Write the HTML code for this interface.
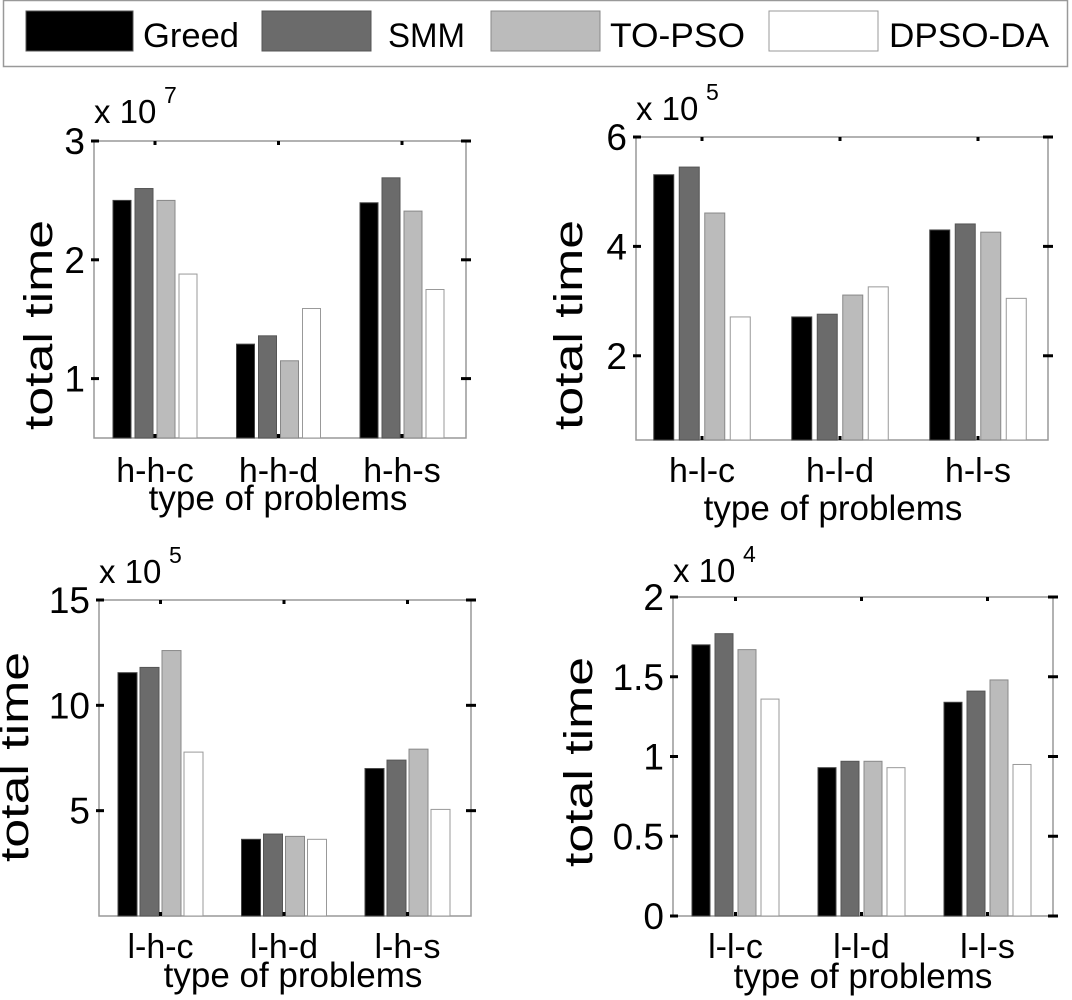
<!DOCTYPE html>
<html><head><meta charset="utf-8"><style>
html,body{margin:0;padding:0;background:#fff;}
svg{display:block;font-family:"Liberation Sans",Arial,sans-serif;}
</style></head><body>
<svg id="fig" width="1072" height="1000" viewBox="0 0 1072 1000">
<g>
<rect x="3.5" y="0.5" width="1064" height="66" fill="#fff" stroke="#999" stroke-width="1.5"/>
<g><rect x="26" y="11" width="107" height="40" fill="#000" stroke="#555"/><text x="143" y="47" font-size="34" textLength="96" lengthAdjust="spacingAndGlyphs">Greed</text></g>
<g><rect x="262" y="11" width="109" height="40" fill="#6b6b6b" stroke="#555"/><text x="388" y="47" font-size="34" textLength="77" lengthAdjust="spacingAndGlyphs">SMM</text></g>
<g><rect x="491" y="11" width="109" height="40" fill="#bbb" stroke="#888"/><text x="610" y="47" font-size="34" textLength="135" lengthAdjust="spacingAndGlyphs">TO-PSO</text></g>
<g><rect x="769" y="11" width="109" height="40" fill="#fff" stroke="#999"/><text x="889" y="47" font-size="34" textLength="160" lengthAdjust="spacingAndGlyphs">DPSO-DA</text></g>
</g>
</svg>
<script>
// ---- data ----
const seriesNames = ["Greed","SMM","TO-PSO","DPSO-DA"];
const catsTL = ["h-h-c","h-h-d","h-h-s"];
const greedTL = [2.50,1.29,2.48];
const smmTL = [2.60,1.36,2.69];
const topsoTL = [2.50,1.15,2.41];
const dpsoTL = [1.88,1.59,1.75];
const ticksTL = [1,2,3];
const tickLabelsTL = ["1","2","3"];

const catsTR = ["h-l-c","h-l-d","h-l-s"];
const greedTR = [5.31,2.71,4.30];
const smmTR = [5.45,2.76,4.41];
const topsoTR = [4.61,3.11,4.26];
const dpsoTR = [2.71,3.26,3.05];
const ticksTR = [2,4,6];
const tickLabelsTR = ["2","4","6"];

const catsBL = ["l-h-c","l-h-d","l-h-s"];
const greedBL = [11.55,3.64,7.0];
const smmBL = [11.8,3.89,7.4];
const topsoBL = [12.6,3.78,7.92];
const dpsoBL = [7.78,3.64,5.06];
const ticksBL = [5,10,15];
const tickLabelsBL = ["5","10","15"];

const catsBR = ["l-l-c","l-l-d","l-l-s"];
const greedBR = [1.70,0.93,1.34];
const smmBR = [1.77,0.97,1.41];
const topsoBR = [1.67,0.97,1.48];
const dpsoBR = [1.36,0.93,0.95];
const ticksBR = [0,0.5,1,1.5,2];
const tickLabelsBR = ["0","0.5","1","1.5","2"];

const fills = ["#000","#6b6b6b","#bbbbbb","#ffffff"];
const strokes = ["#444","#555","#888","#999"];

const NS = "http://www.w3.org/2000/svg";
const svg = document.getElementById("fig");
function mk(tag, attrs, parent){const e=document.createElementNS(NS,tag);for(const k in attrs)e.setAttribute(k,attrs[k]);(parent||svg).appendChild(e);return e;}

function chart(id, cfg, cats, series, ticks, tickLabels){
  const g = mk("g",{});
  
  
  const y = v => cfg.bottom - (v - cfg.ymin) / (cfg.ymax - cfg.ymin) * (cfg.bottom - cfg.top);
  const cx = i => cfg.c0 + i * cfg.gap;
  const fr = mk("rect",{x:cfg.left,y:cfg.top,width:cfg.right-cfg.left,height:cfg.bottom-cfg.top,fill:"none",stroke:"#999","stroke-width":1.5},g);
  
  
  cats.forEach((c,i)=>{
    series.forEach((s,j)=>{
      const bx = cx(i) + (j-1.5)*cfg.pitch - cfg.bw/2;
      const top = y(s[i]);
      const r = mk("rect",{x:bx,y:top,width:cfg.bw,height:cfg.bottom-top,fill:fills[j],stroke:strokes[j],"stroke-width":1},g);
      
      
    });
    mk("line",{x1:cx(i),x2:cx(i),y1:cfg.top,y2:cfg.top+4,stroke:"#000","stroke-width":3},g);
    mk("line",{x1:cx(i),x2:cx(i),y1:cfg.bottom,y2:cfg.bottom-4,stroke:"#000","stroke-width":3},g);
    const t = mk("text",{x:cx(i),y:cfg.catY,"font-size":34,"text-anchor":"middle"},g);
    t.textContent = c;
    
    
  });
  ticks.forEach((v,k)=>{
    const yy = y(v);
    mk("line",{x1:cfg.left-3,x2:cfg.left+5,y1:yy,y2:yy,stroke:"#000","stroke-width":3},g);
    mk("line",{x1:cfg.right-5,x2:cfg.right+5,y1:yy,y2:yy,stroke:"#000","stroke-width":3},g);
    const t = mk("text",{x:cfg.left-9,y:yy+13,"font-size":37,"text-anchor":"end"},g);
    t.textContent = tickLabels[k];
    
    
  });
  const yl = mk("text",{x:0,y:0,"font-size":40,"text-anchor":"middle",transform:`translate(${cfg.ylX},${cfg.ylY}) rotate(-90)`,textLength:210,lengthAdjust:"spacingAndGlyphs"},g);
  yl.textContent = "total time";
  
  
  const xl = mk("text",{x:cfg.xlX,y:cfg.xlY,"font-size":35,"text-anchor":"middle"},g);
  xl.textContent = "type of problems";
  
  
  const ex = mk("text",{x:cfg.left,y:cfg.expY,"font-size":33},g);
  ex.textContent = "x 10";
  
  
  const sp = mk("text",{x:cfg.left+70,y:cfg.expY-20,"font-size":23},g);
  sp.textContent = cfg.exp;
  
  
}

chart("chart-high-high",{left:94,right:466,top:141,bottom:438,ymin:0.5,ymax:3,c0:155,gap:123.5,pitch:22,bw:18,catY:482,ylX:52,ylY:325,xlX:278,xlY:510,expY:123,exp:"7"},
  catsTL,[greedTL,smmTL,topsoTL,dpsoTL],ticksTL,tickLabelsTL);
chart("chart-high-low",{left:636,right:1048,top:137,bottom:440,ymin:0.46,ymax:6,c0:702,gap:138,pitch:25.5,bw:20,catY:482,ylX:582,ylY:325,xlX:833,xlY:520,expY:120,exp:"5"},
  catsTR,[greedTR,smmTR,topsoTR,dpsoTR],ticksTR,tickLabelsTR);
chart("chart-low-high",{left:99,right:471,top:600,bottom:916,ymin:0,ymax:15,c0:160.5,gap:123.5,pitch:22,bw:19,catY:958,ylX:28,ylY:757,xlX:293,xlY:987,expY:583,exp:"5"},
  catsBL,[greedBL,smmBL,topsoBL,dpsoBL],ticksBL,tickLabelsBL);
chart("chart-low-low",{left:673,right:1053,top:597,bottom:916,ymin:0,ymax:2,c0:735.5,gap:126,pitch:23,bw:18,catY:958,ylX:592,ylY:762,xlX:863,xlY:988,expY:582,exp:"4"},
  catsBR,[greedBR,smmBR,topsoBR,dpsoBR],ticksBR,tickLabelsBR);
</script>
</body></html>
